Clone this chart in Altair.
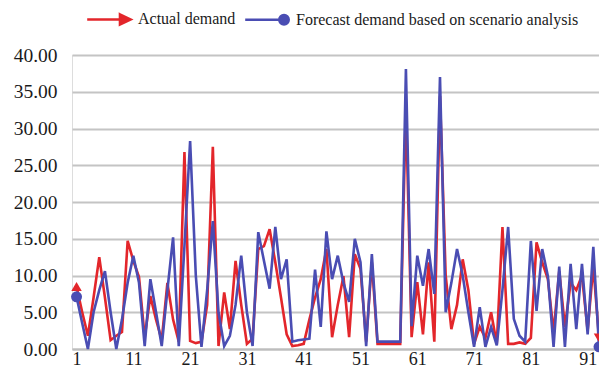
import altair as alt
import pandas as pd

series_names = ["Actual demand", "Forecast demand based on scenario analysis"]
series_colors = ["#e3262b", "#4a4db3"]

x_ticks = [1, 11, 21, 31, 41, 51, 61, 71, 81, 91]
y_ticks = [0, 5, 10, 15, 20, 25, 30, 35, 40]

period = list(range(1, 94))

actual = [
    8.5, 5.0, 1.8, 7.0, 12.5, 7.0, 1.2, 1.8, 2.3, 14.7,
    12.0, 9.8, 1.6, 7.2, 4.0, 1.2, 9.0, 4.0, 1.0, 26.8,
    1.1, 0.8, 1.0, 6.0, 27.5, 0.4, 7.7, 2.7, 12.0, 6.0,
    0.7, 1.4, 13.6, 14.0, 16.3, 11.8, 7.0, 2.0, 0.4, 0.5,
    0.7, 4.0, 7.0, 9.5, 13.6, 1.6, 6.0, 9.9, 1.6, 12.9,
    10.9, 1.0, 11.8, 0.7, 0.7, 0.7, 0.7, 0.7, 33.0, 1.6,
    9.1, 2.0, 11.8, 1.0, 34.4, 10.0, 2.7, 6.0, 12.2, 8.0,
    0.7, 3.0, 1.5, 5.0, 0.7, 16.6, 0.7, 0.7, 0.9, 0.7,
    1.5, 14.5, 11.8, 9.5, 2.3, 10.6, 3.0, 9.0, 8.0, 10.0,
    2.5, 11.3, 1.5,
]

forecast = [
    7.1, 3.5, 0.0, 5.0, 8.0, 10.6, 5.0, 0.0, 4.0, 9.0,
    12.7, 9.0, 0.4, 9.5, 5.0, 0.4, 8.0, 15.2, 0.4, 14.0,
    28.3, 10.0, 0.3, 8.0, 17.4, 5.0, 0.4, 1.8, 6.0, 12.7,
    5.0, 0.4, 15.9, 12.0, 8.2, 16.6, 9.5, 12.2, 1.0, 1.2,
    1.3, 1.4, 10.8, 3.0, 16.0, 9.5, 12.7, 9.0, 6.4, 15.0,
    11.8, 0.4, 12.9, 1.0, 1.0, 1.0, 1.0, 1.0, 38.1, 3.1,
    12.7, 8.6, 13.6, 7.5, 37.0, 5.0, 9.0, 13.6, 10.0, 5.0,
    0.3, 5.7, 0.3, 3.0, 0.5, 8.0, 16.6, 4.1, 1.8, 1.0,
    14.7, 5.2, 13.6, 9.9, 0.3, 11.2, 0.3, 11.6, 2.7, 11.6,
    2.0, 13.9, 0.3,
]

n = len(period)
df = pd.DataFrame({
    "period": period * 2,
    "value": actual + forecast,
    "series": [series_names[0]] * n + [series_names[1]] * n,
})

red_start = pd.DataFrame({"period": [period[0]], "value": [actual[0]]})
red_end = pd.DataFrame({"period": [period[-1]], "value": [actual[-1]]})
blue_ends = pd.DataFrame({"period": [period[0], period[-1]],
                          "value": [forecast[0], forecast[-1]]})

legend_df = pd.DataFrame({"series": series_names})

FONT = "Liberation Serif, DejaVu Serif, serif"

x_enc = alt.X(
    "period:Q",
    scale=alt.Scale(domain=[0.2, 93.0], nice=False, zero=False),
    axis=alt.Axis(values=x_ticks, title=None, grid=False, ticks=False,
                  labelFontSize=18, labelFont=FONT, labelColor="#1a1a1a",
                  domainColor="#bdbdbd", domainWidth=2, labelPadding=1,
                  labelFlush=False),
)
y_enc = alt.Y(
    "value:Q",
    scale=alt.Scale(domain=[0, 40], nice=False),
    axis=alt.Axis(values=y_ticks, format=".2f", title=None, domain=False,
                  ticks=False, grid=True, gridColor="#c4c4c4", gridWidth=2,
                  labelFontSize=19.5, labelFont=FONT, labelColor="#1a1a1a",
                  labelPadding=15),
)
color_scale = alt.Scale(domain=series_names, range=series_colors)

red_line = alt.Chart(df).transform_filter(
    alt.datum.series == series_names[0]
).mark_line(strokeWidth=2.6, color=series_colors[0]).encode(x=x_enc, y=y_enc)

blue_line = alt.Chart(df).transform_filter(
    alt.datum.series == series_names[1]
).mark_line(strokeWidth=2.6, color=series_colors[1]).encode(x=x_enc, y=y_enc)

m_start = alt.Chart(red_start).mark_point(
    filled=True, opacity=1, size=110, shape="triangle-up", color=series_colors[0]
).encode(x=x_enc, y=y_enc)
m_end = alt.Chart(red_end).mark_point(
    filled=True, opacity=1, size=110, shape="triangle-down", color=series_colors[0]
).encode(x=x_enc, y=y_enc)
m_dots = alt.Chart(blue_ends).mark_point(
    filled=True, opacity=1, size=120, shape="circle", color=series_colors[1]
).encode(x=x_enc, y=y_enc)

arrow_path = "M-1,0L0.5,0M0.5,-0.24L1,0L0.5,0.24Z"
dot_path = "M-1,0L0.56,0M1,0A0.22,0.22,0,1,1,0.56,0A0.22,0.22,0,1,1,1,0Z"

# legend-only layer: its own symbols are placed outside the plot and clipped
legend_layer = alt.Chart(legend_df).mark_point(filled=True, opacity=1, clip=True).encode(
    x=alt.value(-200), y=alt.value(-200),
    fill=alt.Fill("series:N", scale=color_scale,
                  legend=alt.Legend(
                      title=None, orient="none", direction="horizontal",
                      legendX=14, legendY=-59,
                      symbolSize=1900, symbolStrokeWidth=2.4,
                      labelFont=FONT, labelFontSize=16, labelColor="#1a1a1a",
                      labelOffset=6, columnPadding=4, labelLimit=500,
                  )),
    stroke=alt.Stroke("series:N", scale=color_scale),
    shape=alt.Shape("series:N",
                    scale=alt.Scale(domain=series_names, range=[arrow_path, dot_path])),
)

chart = alt.layer(red_line, blue_line, m_start, m_end, m_dots, legend_layer).properties(
    width=527, height=294,
    autosize=alt.AutoSizeParams(type="none"),
    padding={"left": 64, "top": 47, "right": 0, "bottom": 18},
).configure_view(
    stroke="#bdbdbd", strokeWidth=2
).configure(background="white")

chart.save("out.html", embed_options={"renderer": "svg", "actions": False})
